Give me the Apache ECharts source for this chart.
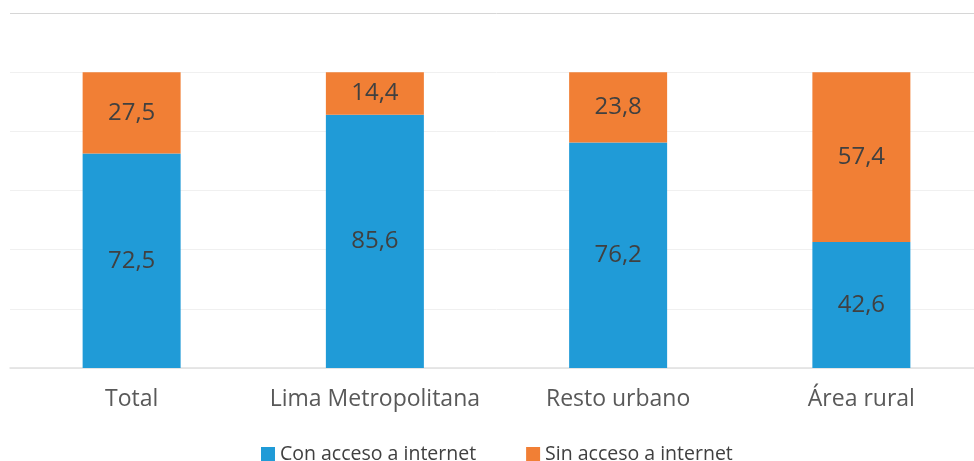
<!DOCTYPE html>
<html><head><meta charset="utf-8">
<script src="https://cdn.jsdelivr.net/npm/echarts@6/dist/echarts.min.js"></script>
<style>html,body{margin:0;padding:0;background:#fff;overflow:hidden}#c{width:983px;height:461px}</style>
</head><body><div id="c"></div>
<script>
const categories = ['Total', 'Lima Metropolitana', 'Resto urbano', 'Área rural'];
const conAcceso = [72.5, 85.6, 76.2, 42.6];
const sinAcceso = [27.5, 14.4, 23.8, 57.4];
const seriesNames = ['Con acceso a internet', 'Sin acceso a internet'];

const FONT = 'Open Sans';
const fmt = p => p.value.toFixed(1).replace('.', ',');
const chart = echarts.init(document.getElementById('c'));
chart.setOption({
  animation: false,
  textStyle: { fontFamily: FONT },
  grid: { left: 10, right: 0, top: 13, bottom: 93 },
  legend: {
    top: 439, left: 256, itemWidth: 14, itemHeight: 14, itemGap: 50,
    icon: 'rect',
    textStyle: { fontSize: 19.5, color: '#404040', fontFamily: FONT },
    data: seriesNames
  },
  xAxis: {
    type: 'category', data: categories,
    axisLine: { lineStyle: { color: '#e0e0e0', width: 1.5 } },
    axisTick: { show: false },
    axisLabel: { interval: 0, fontSize: 23, color: '#595959', margin: 20, fontFamily: FONT }
  },
  yAxis: {
    type: 'value', min: 0, max: 120, interval: 20,
    axisLabel: { show: false }, axisLine: { show: false }, axisTick: { show: false },
    splitLine: { lineStyle: { color: ['#f0f0f0','#f0f0f0','#f0f0f0','#f0f0f0','#f0f0f0','#f0f0f0','#d6d6d6'], width: 1 } }
  },
  series: [
    { name: seriesNames[0], type: 'bar', stack: 't', data: conAcceso, barWidth: 98,
      itemStyle: { color: '#209BD7' },
      label: { show: true, position: 'inside', formatter: fmt, fontSize: 24, color: '#404040', fontFamily: FONT } },
    { name: seriesNames[1], type: 'bar', stack: 't', data: sinAcceso, barWidth: 98,
      itemStyle: { color: '#F17F35' },
      label: { show: true, position: 'inside', formatter: fmt, fontSize: 24, color: '#404040', fontFamily: FONT } }
  ]
});
</script></body></html>
